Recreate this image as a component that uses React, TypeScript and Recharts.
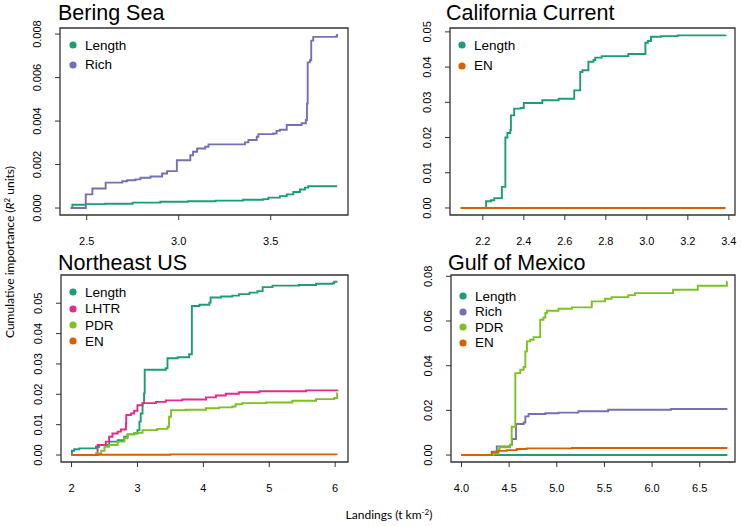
import React from 'react'
import { LineChart, Line, XAxis, YAxis, ReferenceArea, Legend } from 'recharts'

type Pt = [number, number]

// cumulative importance curves, [landings, R2]
const beringLength: Pt[] = [
  [2.413, 0], [2.422, 0.00015], [2.495, 0.00018], [2.6, 0.0002], [2.75, 0.00025],
  [2.9, 0.00029], [3.05, 0.00031], [3.2, 0.00034], [3.35, 0.00038], [3.46, 0.00041],
  [3.487, 0.00048], [3.55, 0.00055], [3.587, 0.00063], [3.623, 0.00074], [3.659, 0.00085],
  [3.686, 0.00094], [3.704, 0.001], [3.861, 0.001],
]
const beringRich: Pt[] = [
  [2.413, 0], [2.495, 0.00063], [2.531, 0.0009], [2.603, 0.00117], [2.693, 0.00123],
  [2.72, 0.00128], [2.765, 0.00132], [2.792, 0.00139], [2.847, 0.00145], [2.91, 0.00159],
  [2.937, 0.0017], [2.99, 0.0022], [3.063, 0.00243], [3.078, 0.00259], [3.1, 0.00274],
  [3.144, 0.00282], [3.162, 0.00293], [3.36, 0.00302], [3.379, 0.00313], [3.424, 0.00328],
  [3.433, 0.0034], [3.514, 0.00343], [3.532, 0.00355], [3.55, 0.0036], [3.587, 0.00382],
  [3.668, 0.0039], [3.691, 0.00405], [3.697, 0.0048], [3.701, 0.0067], [3.713, 0.0068],
  [3.72, 0.0077], [3.731, 0.00787], [3.857, 0.0079], [3.861, 0.008],
]

const califLength: Pt[] = [
  [2.092, 0], [2.216, 0.0019], [2.24, 0.0022], [2.256, 0.0028], [2.293, 0.006],
  [2.31, 0.02], [2.32, 0.0213], [2.334, 0.0221], [2.337, 0.0263], [2.353, 0.0282],
  [2.385, 0.0284], [2.4, 0.0298], [2.49, 0.0306], [2.57, 0.031], [2.646, 0.0334],
  [2.675, 0.0386], [2.686, 0.0391], [2.715, 0.0415], [2.74, 0.042], [2.748, 0.0427],
  [2.78, 0.0431], [2.91, 0.0437], [2.993, 0.0469], [3.005, 0.0474], [3.02, 0.0486],
  [3.07, 0.0488], [3.15, 0.049], [3.384, 0.0491],
]
const califEN: Pt[] = [[2.092, 0], [3.384, 0]]

const neLength: Pt[] = [
  [2.0, 0], [2.005, 0.0014], [2.04, 0.0019], [2.117, 0.0022], [2.37, 0.0027],
  [2.42, 0.0033], [2.57, 0.0044], [2.7, 0.0049], [2.8, 0.006], [2.85, 0.0068],
  [2.95, 0.0071], [3.0, 0.0082], [3.03, 0.011], [3.05, 0.0137], [3.077, 0.0171],
  [3.1, 0.0203], [3.11, 0.0281], [3.43, 0.0286], [3.456, 0.0319], [3.61, 0.0322],
  [3.785, 0.0332], [3.826, 0.0491], [3.94, 0.0495], [4.09, 0.0502], [4.11, 0.0519],
  [4.27, 0.0522], [4.44, 0.0525], [4.54, 0.053], [4.7, 0.0535], [4.82, 0.054],
  [4.9, 0.0553], [5.05, 0.0558], [5.45, 0.056], [5.71, 0.0564], [5.96, 0.0566],
  [5.985, 0.0571], [6.035, 0.0571],
]
const neLHTR: Pt[] = [
  [2.0, 0], [2.395, 0.0033], [2.52, 0.0044], [2.57, 0.006], [2.62, 0.0071],
  [2.7, 0.0077], [2.75, 0.0084], [2.825, 0.0104], [2.83, 0.0132], [2.9, 0.0137],
  [2.95, 0.0146], [3.0, 0.0164], [3.077, 0.0171], [3.28, 0.0175], [3.43, 0.018],
  [3.68, 0.0183], [4.04, 0.019], [4.19, 0.0196], [4.34, 0.0202], [4.54, 0.0207],
  [4.85, 0.021], [5.56, 0.0213], [6.035, 0.0214],
]
const nePDR: Pt[] = [
  [2.0, 0], [2.37, 0.0005], [2.45, 0.0014], [2.5, 0.0027], [2.57, 0.0033],
  [2.7, 0.0044], [2.8, 0.0055], [2.85, 0.0068], [2.95, 0.0073], [3.077, 0.0082],
  [3.3, 0.0086], [3.457, 0.0093], [3.48, 0.0126], [3.51, 0.0148], [3.73, 0.0149],
  [4.04, 0.0154], [4.24, 0.0157], [4.44, 0.016], [4.49, 0.0167], [4.59, 0.0171],
  [4.95, 0.0173], [5.35, 0.0179], [5.71, 0.0184], [5.985, 0.0188], [6.03, 0.0204],
  [6.035, 0.0204],
]
const neEN: Pt[] = [[2.0, 0], [2.38, 0.0001], [3.5, 0.0002], [6.035, 0.0002]]

const gulfLength: Pt[] = [[4.0, 0], [6.79, 0]]
const gulfRich: Pt[] = [
  [4.0, 0], [4.318, 0.0009], [4.37, 0.0039], [4.51, 0.0046], [4.53, 0.0072],
  [4.572, 0.0139], [4.652, 0.0146], [4.67, 0.0173], [4.704, 0.0184], [4.88, 0.0187],
  [5.02, 0.019], [5.227, 0.0196], [5.54, 0.0203], [6.2, 0.0206], [6.79, 0.0206],
]
const gulfPDR: Pt[] = [
  [4.0, 0], [4.335, 0.0006], [4.387, 0.0025], [4.4, 0.0035], [4.51, 0.0045],
  [4.527, 0.0127], [4.565, 0.0367], [4.617, 0.0382], [4.652, 0.0394], [4.67, 0.0464],
  [4.687, 0.0509], [4.72, 0.0516], [4.757, 0.0528], [4.826, 0.0606], [4.86, 0.0616],
  [4.88, 0.0636], [4.896, 0.0646], [5.018, 0.0655], [5.158, 0.0661], [5.367, 0.0688],
  [5.506, 0.07], [5.576, 0.0707], [5.75, 0.0716], [5.82, 0.0725], [6.22, 0.074],
  [6.48, 0.0758], [6.785, 0.0776], [6.79, 0.0776],
]
const gulfEN: Pt[] = [
  [4.0, 0], [4.318, 0.0015], [4.387, 0.0019], [4.475, 0.0022], [4.58, 0.0027],
  [4.684, 0.003], [5.16, 0.0032], [6.79, 0.0032],
]

const beringXTicks = [2.5, 3.0, 3.5]
const beringYTicks = [0, 0.002, 0.004, 0.006, 0.008]
const califXTicks = [2.2, 2.4, 2.6, 2.8, 3.0, 3.2, 3.4]
const califYTicks = [0, 0.01, 0.02, 0.03, 0.04, 0.05]
const neXTicks = [2, 3, 4, 5, 6]
const neYTicks = [0, 0.01, 0.02, 0.03, 0.04, 0.05]
const gulfXTicks = [4.0, 4.5, 5.0, 5.5, 6.0, 6.5]
const gulfYTicks = [0, 0.02, 0.04, 0.06, 0.08]

const COLORS: Record<string, string> = {
  Length: '#1B9E77',
  Rich: '#7570B3',
  LHTR: '#E7298A',
  PDR: '#7BC21E',
  EN: '#D95F02',
}

const FONT = '"Liberation Sans", Arial, sans-serif'
const LABEL_FONT = 'Lato, "Open Sans", sans-serif'
const AXIS = '#333'

type Series = { name: string; points: Pt[] }

type PanelProps = {
  left: number
  top: number
  width: number
  height: number
  margin: { top: number; right: number; bottom: number; left: number }
  xDomain: [number, number]
  yDomain: [number, number]
  xTicks: number[]
  yTicks: number[]
  xDigits: number
  yDigits: number
  series: Series[]
  legend: { x: number; y: number; step: number }
}

const YTick = (props: any) => {
  const { x, y, payload, digits } = props
  return (
    <text
      x={x}
      y={y}
      transform={`rotate(-90, ${x}, ${y})`}
      textAnchor="middle"
      fontSize={11}
      fontFamily={FONT}
      fill="#000"
    >
      {Number(payload.value).toFixed(digits)}
    </text>
  )
}

function Panel(p: PanelProps) {
  const { legend } = p
  return (
    <div style={{ position: 'absolute', left: p.left, top: p.top, width: p.width, height: p.height }}>
      <LineChart width={p.width} height={p.height} margin={p.margin}>
        <XAxis
          type="number"
          dataKey="x"
          domain={p.xDomain}
          ticks={p.xTicks}
          allowDataOverflow
          interval={0}
          height={30}
          axisLine={false}
          tickLine={{ stroke: AXIS }}
          tickSize={5}
          tickMargin={17}
          tickFormatter={(v: number) => v.toFixed(p.xDigits)}
          tick={{ fill: '#000', fontSize: 11, fontFamily: FONT }}
        />
        <YAxis
          type="number"
          domain={p.yDomain}
          ticks={p.yTicks}
          allowDataOverflow
          interval={0}
          width={40}
          axisLine={false}
          tickLine={{ stroke: AXIS }}
          tickSize={5}
          tickMargin={14}
          tick={<YTick digits={p.yDigits} />}
        />
        <ReferenceArea
          x1={p.xDomain[0]}
          x2={p.xDomain[1]}
          y1={p.yDomain[0]}
          y2={p.yDomain[1]}
          fill="none"
          stroke={AXIS}
          strokeWidth={1.3}
          ifOverflow="visible"
        />
        {p.series.map((s) => (
          <Line
            key={s.name}
            name={s.name}
            data={s.points.map(([x, y]) => ({ x, y }))}
            dataKey="y"
            type="stepAfter"
            stroke={COLORS[s.name]}
            strokeWidth={1.9}
            dot={false}
            activeDot={false}
            isAnimationActive={false}
          />
        ))}
        <Legend
          layout="vertical"
          align="center"
          verticalAlign="middle"
          wrapperStyle={{ left: legend.x - 4, top: legend.y - legend.step / 2, width: 120, height: 'auto' }}
          content={() => (
            <div style={{ fontFamily: FONT, fontSize: 13.5, color: '#000' }}>
              {p.series.map((s) => (
                <div key={s.name} style={{ height: legend.step, display: 'flex', alignItems: 'center' }}>
                  <svg width={8} height={8} style={{ marginRight: 8 }}>
                    <circle cx={4} cy={4} r={3.6} fill={COLORS[s.name]} />
                  </svg>
                  <span>{s.name}</span>
                </div>
              ))}
            </div>
          )}
        />
      </LineChart>
    </div>
  )
}

export default function App() {
  return (
    <div
      style={{
        position: 'absolute',
        left: 0,
        top: 0,
        width: 743,
        height: 526,
        background: '#fff',
        overflow: 'hidden',
      }}
    >
      <Panel
        left={0}
        top={0}
        width={372}
        height={263}
        margin={{ top: 28, right: 24, bottom: 18, left: 20 }}
        xDomain={[2.355, 3.92]}
        yDomain={[-0.00032, 0.00828]}
        xTicks={beringXTicks}
        yTicks={beringYTicks}
        xDigits={1}
        yDigits={3}
        series={[
          { name: 'Length', points: beringLength },
          { name: 'Rich', points: beringRich },
        ]}
        legend={{ x: 73, y: 45, step: 19.5 }}
      />
      <Panel
        left={372}
        top={0}
        width={371}
        height={263}
        margin={{ top: 28, right: 8, bottom: 18, left: 38 }}
        xDomain={[2.04, 3.43]}
        yDomain={[-0.002, 0.0511]}
        xTicks={califXTicks}
        yTicks={califYTicks}
        xDigits={1}
        yDigits={2}
        series={[
          { name: 'Length', points: califLength },
          { name: 'EN', points: califEN },
        ]}
        legend={{ x: 90, y: 45, step: 20.5 }}
      />
      <Panel
        left={0}
        top={263}
        width={372}
        height={263}
        margin={{ top: 12, right: 24, bottom: 34, left: 21 }}
        xDomain={[1.84, 6.195]}
        yDomain={[-0.0023, 0.0593]}
        xTicks={neXTicks}
        yTicks={neYTicks}
        xDigits={0}
        yDigits={2}
        series={[
          { name: 'Length', points: neLength },
          { name: 'LHTR', points: neLHTR },
          { name: 'PDR', points: nePDR },
          { name: 'EN', points: neEN },
        ]}
        legend={{ x: 73, y: 29.5, step: 16.3 }}
      />
      <Panel
        left={372}
        top={263}
        width={371}
        height={263}
        margin={{ top: 12, right: 8, bottom: 34, left: 39 }}
        xDomain={[3.89, 6.87]}
        yDomain={[-0.0031, 0.0806]}
        xTicks={gulfXTicks}
        yTicks={gulfYTicks}
        xDigits={1}
        yDigits={2}
        series={[
          { name: 'Length', points: gulfLength },
          { name: 'Rich', points: gulfRich },
          { name: 'PDR', points: gulfPDR },
          { name: 'EN', points: gulfEN },
        ]}
        legend={{ x: 91, y: 33, step: 15.5 }}
      />
      <svg
        width={743}
        height={526}
        style={{ position: 'absolute', left: 0, top: 0, pointerEvents: 'none' }}
      >
        <g fontFamily={FONT} fontSize={21.5} fill="#000">
          <text x={58} y={20}>Bering Sea</text>
          <text x={446} y={20}>California Current</text>
          <text x={58} y={270}>Northeast US</text>
          <text x={448} y={270}>Gulf of Mexico</text>
        </g>
        <g fontFamily={LABEL_FONT} fontSize={12} fill="#000">
          <text transform="rotate(-90)" x={-252} y={14} textAnchor="middle">
            Cumulative importance (<tspan fontStyle="italic">R</tspan>
            <tspan dy={-4} fontSize={8}>2</tspan>
            <tspan dy={4}> units)</tspan>
          </text>
          <text x={389} y={519} textAnchor="middle">
            Landings (t km<tspan dy={-4} fontSize={8}>-2</tspan>
            <tspan dy={4}>)</tspan>
          </text>
        </g>
      </svg>
    </div>
  )
}
